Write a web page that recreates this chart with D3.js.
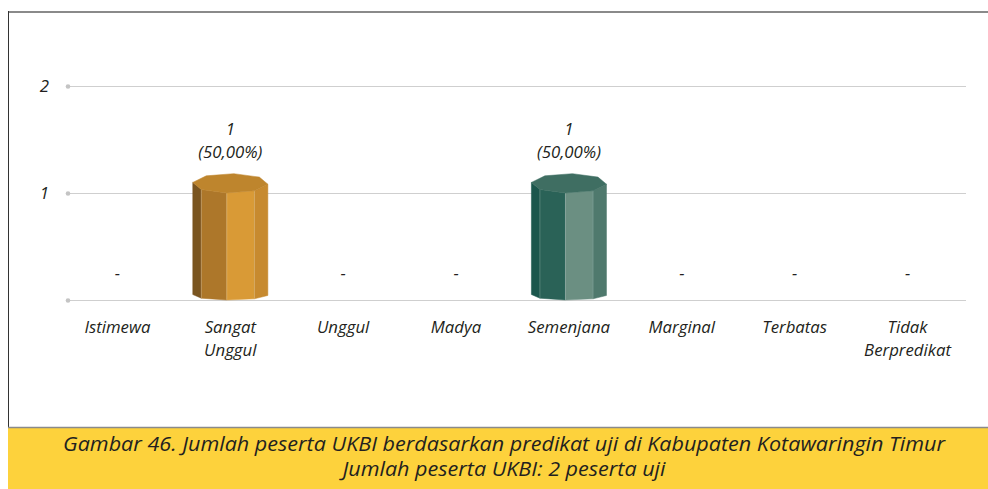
<!DOCTYPE html>
<html>
<head>
<meta charset="utf-8">
<script src="https://cdn.jsdelivr.net/npm/d3@7"></script>
<style>
  html, body { margin: 0; padding: 0; background: #ffffff; }
  svg { display: block; }
  text { font-family: "Open Sans", "Noto Sans", sans-serif; font-style: italic; fill: #231f20; }
</style>
</head>
<body>
<svg id="chart" width="988" height="489"></svg>
<script>
// Participants per UKBI predicate
const categories = ["Istimewa", "Sangat Unggul", "Unggul", "Madya", "Semenjana", "Marginal", "Terbatas", "Tidak Berpredikat"];
const counts = [0, 1, 0, 0, 1, 0, 0, 0];
const yTicks = [0, 1, 2];
const yTickLabels = ["", "1", "2"];
const captionLines = [
  "Gambar 46. Jumlah peserta UKBI berdasarkan predikat uji di Kabupaten Kotawaringin Timur",
  "Jumlah peserta UKBI: 2 peserta uji"
];

// Face colours of the octagonal prisms (left → right), plus top face
const barPalettes = {
  "Sangat Unggul": { faces: ["#7a5520", "#ad772a", "#d99a36", "#c78a2f"], top: "#be852d" },
  "Semenjana":     { faces: ["#1b564c", "#2a6257", "#6b8f82", "#4f796d"], top: "#3f6e62" }
};

const labelSize = 16.8;
const total = d3.sum(counts);
const svg = d3.select("#chart");

// Panel frame and caption band
svg.append("rect").attr("x", 8).attr("y", 428).attr("width", 980).attr("height", 61).attr("fill", "#fdd23c");
svg.append("line").attr("x1", 8).attr("x2", 988).attr("y1", 12).attr("y2", 12).attr("stroke", "#8a8a8a").attr("stroke-width", 2);
svg.append("line").attr("x1", 8.5).attr("x2", 8.5).attr("y1", 11).attr("y2", 428).attr("stroke", "#333").attr("stroke-width", 1);
svg.append("line").attr("x1", 8).attr("x2", 988).attr("y1", 427.5).attr("y2", 427.5).attr("stroke", "#8a8a8a").attr("stroke-width", 1.5);

const x = d3.scaleBand().domain(categories).range([61, 964]).padding(0);
const y = d3.scaleLinear().domain([0, 2]).range([300, 86]);

// Gridlines with a dot at the left end
const grid = svg.append("g");
grid.selectAll("line").data(yTicks).join("line")
  .attr("x1", 68).attr("x2", 966)
  .attr("y1", d => Math.round(y(d)) + 0.5).attr("y2", d => Math.round(y(d)) + 0.5)
  .attr("stroke", "#cfcfcf").attr("stroke-width", 1);
grid.selectAll("circle").data(yTicks).join("circle")
  .attr("cx", 68).attr("cy", d => Math.round(y(d)) + 0.5).attr("r", 2.3)
  .attr("fill", "#c4c4c4");

// Y axis labels
svg.append("g").selectAll("text").data(yTicks).join("text")
  .attr("x", 49).attr("y", d => y(d) + 6)
  .attr("text-anchor", "end").attr("font-size", labelSize)
  .text((d, i) => yTickLabels[i]);

// Octagonal prisms
const r = 37.7, ryTop = 9.7, ryBot = 5;
const rot = -5.3 * Math.PI / 180;
const step = Math.PI / 4;
const bars = svg.append("g");
categories.forEach((c, i) => {
  const v = counts[i];
  if (!v) return;
  const cx = x(c) + x.bandwidth() / 2;
  const cyTop = y(v) - ryTop;
  const cyBot = y(0) - ryBot;
  const pal = barPalettes[c];
  const pt = (a, cy, ry) => [cx + r * Math.sin(a), cy + ry * Math.cos(a)];
  // side faces, from the left silhouette to the right one
  for (let k = -2; k <= 1; k++) {
    const a0 = rot + k * step, a1 = rot + (k + 1) * step;
    const poly = [pt(a0, cyTop, ryTop), pt(a1, cyTop, ryTop), pt(a1, cyBot, ryBot), pt(a0, cyBot, ryBot)];
    bars.append("path").attr("d", d3.line()(poly) + "Z")
      .attr("fill", pal.faces[k + 2])
      .attr("stroke", pal.faces[k + 2]).attr("stroke-width", 0.5);
  }
  // thin highlights on vertical edges
  for (let k = -1; k <= 1; k++) {
    const a = rot + k * step;
    const p0 = pt(a, cyTop, ryTop), p1 = pt(a, cyBot, ryBot);
    bars.append("line").attr("x1", p0[0]).attr("y1", p0[1]).attr("x2", p1[0]).attr("y2", p1[1])
      .attr("stroke", "#ffffff").attr("stroke-opacity", 0.25).attr("stroke-width", 0.8);
  }
  const topPoly = d3.range(8).map(k => pt(rot + k * step, cyTop, ryTop));
  bars.append("path").attr("d", d3.line()(topPoly) + "Z")
    .attr("fill", pal.top).attr("stroke", pal.top).attr("stroke-width", 0.5);
});

// Value labels
const fmtPct = v => "(" + (v / total * 100).toFixed(2).replace(".", ",") + "%)";
const labels = svg.append("g");
categories.forEach((c, i) => {
  const v = counts[i];
  const cx = x(c) + x.bandwidth() / 2;
  if (v) {
    const topY = y(v) - 2 * ryTop;
    labels.append("text").attr("x", cx).attr("y", topY - 38.5).attr("text-anchor", "middle").attr("font-size", labelSize).text(v);
    labels.append("text").attr("x", cx).attr("y", topY - 15.5).attr("text-anchor", "middle").attr("font-size", labelSize).text(fmtPct(v));
  } else {
    labels.append("text").attr("x", cx).attr("y", y(0) - 21.5).attr("text-anchor", "middle").attr("font-size", labelSize).text("-");
  }
});

// Category labels (multi-word names wrap onto two lines)
const catG = svg.append("g");
categories.forEach(c => {
  const cx = x(c) + x.bandwidth() / 2;
  const t = catG.append("text").attr("x", cx).attr("y", 332.5).attr("text-anchor", "middle").attr("font-size", labelSize);
  c.split(" ").forEach((w, j) => {
    t.append("tspan").attr("x", cx).attr("dy", j === 0 ? 0 : 23.5).text(w);
  });
});

// Caption
const capWidths = [882, 323];
svg.append("g").selectAll("text").data(captionLines).join("text")
  .attr("x", 504).attr("y", (d, i) => 451 + i * 25)
  .attr("text-anchor", "middle").attr("font-size", 19.5)
  .attr("textLength", (d, i) => capWidths[i]).attr("lengthAdjust", "spacingAndGlyphs")
  .text(d => d);
</script>
</body>
</html>
